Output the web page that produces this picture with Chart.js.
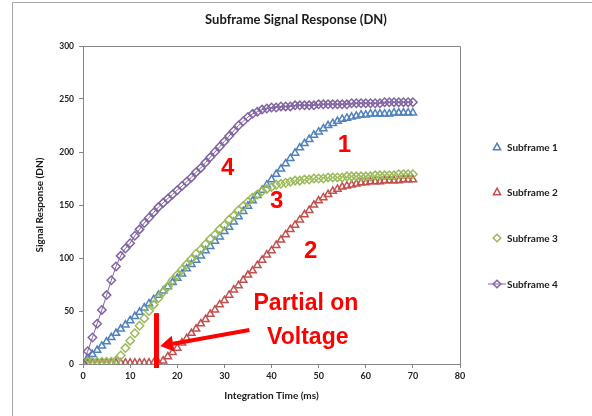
<!DOCTYPE html>
<html><head><meta charset="utf-8">
<script src="https://cdn.jsdelivr.net/npm/chart.js@4/dist/chart.umd.min.js"></script>
<style>html,body{margin:0;padding:0;background:#fff}#wrap{width:592px;height:416px;position:relative}</style>
</head><body><div id="wrap"><canvas id="c" width="592" height="416"></canvas></div>
<script>
// ---- data ----
const times = [0,1,2,3,4,5,6,7,8,9,10,11,12,13,14,15,16,17,18,19,20,21,22,23,24,25,26,27,28,29,30,31,32,33,34,35,36,37,38,39,40,41,42,43,44,45,46,47,48,49,50,51,52,53,54,55,56,57,58,59,60,61,62,63,64,65,66,67,68,69,70];
const subframe1 = [1,5,9,13,17,21,25,29,33,37,41,45,49,53,57,61,65,69,73,77,81,85,90,94,98,102,107,111,116,120,125,129,134,139,144,149,154,159,164,169,174,179,184,189,194,199,204,208,212,216,219,222,225,227,229,231,232,233,234,235,235,236,236,236,236,236,237,237,237,237,237];
const subframe2 = [1,1,1,1,1,1,1,1,1,1,1,1,1,1,1,1,1,3,7,11,15,20,24,29,33,38,42,47,51,56,60,65,70,74,79,84,88,93,98,103,107,112,117,122,127,131,136,141,145,150,154,157,160,163,165,167,168,169,170,171,171,172,172,172,173,173,173,173,174,174,174];
const subframe3 = [2,2,2,2,2,2,2,3,8,15,22,29,36,43,50,56,62,68,73,79,84,89,94,99,104,108,113,118,122,127,131,136,140,145,149,153,157,160,163,165,167,169,170,171,172,173,173,174,174,175,175,175,176,176,176,176,177,177,177,177,177,177,178,178,178,178,178,179,179,179,179];
const subframe4 = [0,12,25,38,51,65,79,92,102,109,114,121,127,133,138,143,148,152,156,160,164,168,172,176,181,185,190,195,200,205,210,215,220,225,229,233,236,238,240,241,242,242,243,243,243,244,244,244,244,244,245,245,245,245,245,245,245,246,246,246,246,246,246,246,247,247,247,247,247,247,247];
const seriesNames = ['Subframe 1','Subframe 2','Subframe 3','Subframe 4'];
const xTicks = [0,10,20,30,40,50,60,70,80];
const yTicks = [0,50,100,150,200,250,300];

// annotations in data coordinates
const noteTexts = ['1','4','3','2','Partial on','Voltage'];
const noteX = [55.5, 30.7, 41.1, 48.3, 47.3, 47.7];
const noteY = [206, 185, 153, 106, 57, 25];

// ---- styling ----
const COLORS = ['#4F81BD','#C0504D','#9BBB59','#8064A2'];
const STYLES = ['triangle','triangle','rectRot','rectRot'];
const RED = '#FF0000';
const FONT = 'Lato';

const allSeries = [subframe1, subframe2, subframe3, subframe4];
const datasets = allSeries.map((vals, i) => ({
  label: seriesNames[i],
  data: times.map((t, j) => ({x: t, y: vals[j]})),
  showLine: i === 3,
  borderColor: COLORS[i],
  borderWidth: 1,
  backgroundColor: 'rgba(0,0,0,0)',
  pointStyle: STYLES[i],
  pointRadius: 4.2,
  pointBorderWidth: 1.5,
  pointBorderColor: COLORS[i],
  pointBackgroundColor: 'rgba(0,0,0,0)',
  order: 4 - i
}));

const framePlugin = {
  id: 'frame',
  beforeDraw(chart) {
    const ctx = chart.ctx;
    ctx.save();
    ctx.fillStyle = '#fff';
    ctx.fillRect(0, 0, chart.width, chart.height);
    ctx.strokeStyle = '#A6A6A6';
    ctx.lineWidth = 1;
    ctx.beginPath();
    ctx.moveTo(12.5, chart.height);
    ctx.lineTo(12.5, 2.5);
    ctx.lineTo(chart.width, 2.5);
    ctx.stroke();
    ctx.restore();
  },
  afterDraw(chart) {
    const {ctx, chartArea: a} = chart;
    ctx.save();
    ctx.strokeStyle = '#868686';
    ctx.lineWidth = 1;
    ctx.beginPath();
    ctx.moveTo(Math.round(a.left) + 0.5, Math.round(a.top) + 0.5);
    ctx.lineTo(Math.round(a.right) + 0.5, Math.round(a.top) + 0.5);
    ctx.lineTo(Math.round(a.right) + 0.5, Math.round(a.bottom) + 0.5);
    ctx.stroke();
    // title
    ctx.fillStyle = '#1a1a1a';
    ctx.textAlign = 'center';
    ctx.textBaseline = 'middle';
    ctx.font = `bold 13px ${FONT}`;
    ctx.fillText('Subframe Signal Response (DN)', 296, 20);
    // axis titles
    ctx.font = `bold 10px ${FONT}`;
    ctx.fillText('Integration Time (ms)', (a.left + a.right) / 2, 396);
    ctx.save();
    ctx.translate(40, (a.top + a.bottom) / 2);
    ctx.rotate(-Math.PI / 2);
    ctx.fillText('Signal Response (DN)', 0, 0);
    ctx.restore();
    // legend
    const ly = [147, 192, 238, 284];
    ctx.textAlign = 'left';
    ctx.font = `bold 10px ${FONT}`;
    seriesNames.forEach((n, i) => {
      const cx = 497, cy = ly[i];
      ctx.strokeStyle = COLORS[i];
      ctx.lineWidth = 1.5;
      if (i === 3) {
        ctx.lineWidth = 1;
        ctx.beginPath(); ctx.moveTo(488, cy); ctx.lineTo(506, cy); ctx.stroke();
        ctx.lineWidth = 1.5;
      }
      ctx.beginPath();
      const r = 3.8;
      if (STYLES[i] === 'triangle') {
        ctx.moveTo(cx, cy - r);
        ctx.lineTo(cx + r * 0.95, cy + r * 0.75);
        ctx.lineTo(cx - r * 0.95, cy + r * 0.75);
        ctx.closePath();
      } else {
        ctx.moveTo(cx, cy - r); ctx.lineTo(cx + r, cy); ctx.lineTo(cx, cy + r); ctx.lineTo(cx - r, cy); ctx.closePath();
      }
      ctx.stroke();
      ctx.fillStyle = '#1a1a1a';
      ctx.fillText(n, 507, cy + 0.5);
    });
    ctx.restore();
  }
};

const annotPlugin = {
  id: 'annot',
  afterDatasetsDraw(chart) {
    const {ctx, scales: {x, y}} = chart;
    ctx.save();
    ctx.fillStyle = RED;
    ctx.strokeStyle = RED;
    ctx.textAlign = 'center';
    ctx.textBaseline = 'middle';
    noteTexts.forEach((t, i) => {
      ctx.font = `bold ${t.length > 1 ? 23 : 24}px "Liberation Sans"`;
      ctx.fillText(t, x.getPixelForValue(noteX[i]), y.getPixelForValue(noteY[i]));
    });
    // vertical bar
    const bx = x.getPixelForValue(15.6);
    const top = y.getPixelForValue(48);
    const bot = y.getPixelForValue(0) + 4;
    ctx.fillRect(bx - 2.5, top, 5, bot - top);
    // arrow
    const tx = x.getPixelForValue(16.4), ty = y.getPixelForValue(17);
    const sx = x.getPixelForValue(35.3), sy = y.getPixelForValue(32);
    const ang = Math.atan2(ty - sy, tx - sx);
    const hl = 13, hw = 8;
    const bxh = tx - hl * Math.cos(ang), byh = ty - hl * Math.sin(ang);
    ctx.lineWidth = 4;
    ctx.beginPath(); ctx.moveTo(sx, sy); ctx.lineTo(bxh, byh); ctx.stroke();
    ctx.beginPath();
    ctx.moveTo(tx, ty);
    ctx.lineTo(bxh + hw * Math.sin(ang), byh - hw * Math.cos(ang));
    ctx.lineTo(bxh - hw * Math.sin(ang), byh + hw * Math.cos(ang));
    ctx.closePath(); ctx.fill();
    ctx.restore();
  }
};

const PAD_LEFT = 13;
new Chart(document.getElementById('c'), {
  type: 'scatter',
  data: {datasets},
  options: {
    responsive: false,
    animation: false,
    devicePixelRatio: 1,
    layout: {padding: {left: PAD_LEFT, top: 46, right: 132, bottom: 0}},
    plugins: {legend: {display: false}, tooltip: {enabled: false}, title: {display: false}},
    scales: {
      x: {
        type: 'linear', min: 0, max: 80,
        afterBuildTicks: s => { s.ticks = xTicks.map(v => ({value: v})); },
        afterFit: s => { s.height = 52; },
        ticks: {font: {family: FONT, size: 9, weight: 'bold'}, color: '#222', padding: 3, maxRotation: 0},
        grid: {display: true, drawOnChartArea: false, drawTicks: true, tickLength: 4, color: '#868686'},
        border: {display: true, color: '#868686'}
      },
      y: {
        type: 'linear', min: 0, max: 300,
        afterBuildTicks: s => { s.ticks = yTicks.map(v => ({value: v})); },
        afterFit: s => { s.width = 83 - PAD_LEFT; },
        ticks: {font: {family: FONT, size: 8.5, weight: 'bold'}, color: '#222', padding: 5},
        grid: {display: true, drawOnChartArea: false, drawTicks: true, tickLength: 4, color: '#868686'},
        border: {display: true, color: '#868686'}
      }
    }
  },
  plugins: [framePlugin, annotPlugin]
});
</script></body></html>
